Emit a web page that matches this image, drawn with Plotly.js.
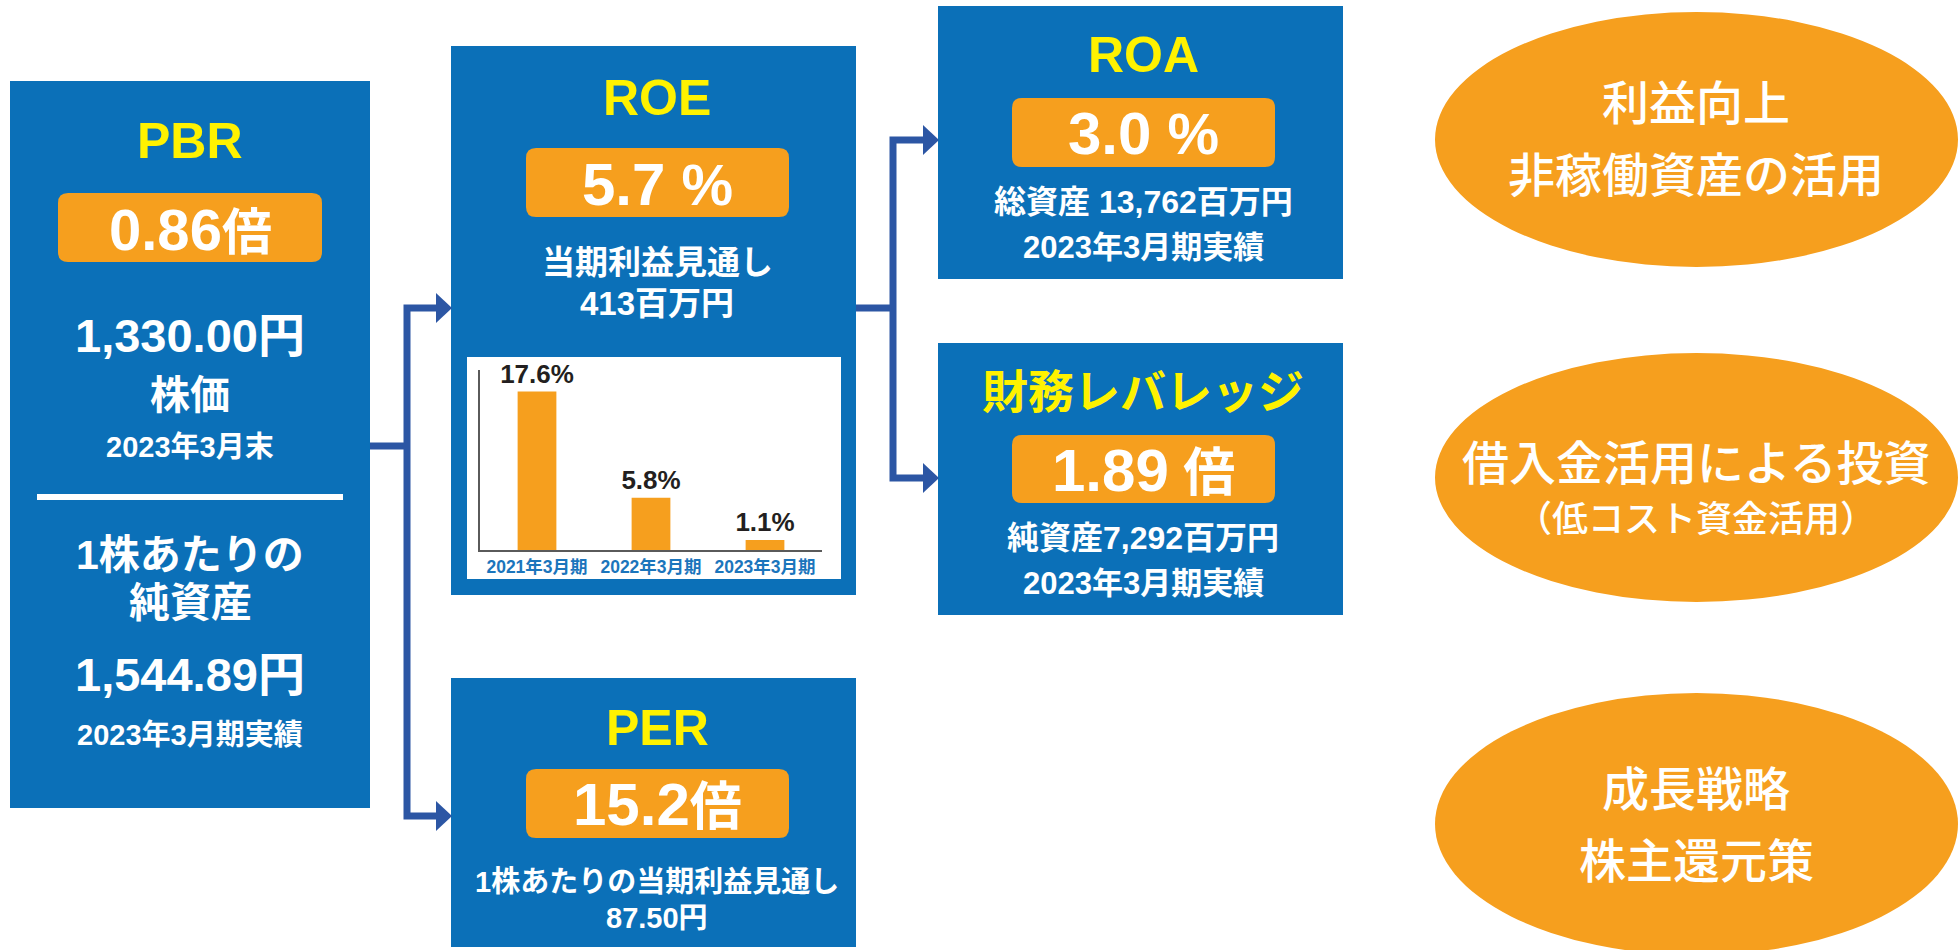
<!DOCTYPE html>
<html>
<head>
<meta charset="utf-8">
<script src="https://cdn.plot.ly/plotly-3.0.1.min.js"></script>
<style>html,body{margin:0;padding:0;background:#fff;}#chart{width:1960px;height:950px;}</style>
</head>
<body>
<div id="chart"></div>
<script>
// ---------------- DATA ----------------
const roeYears = ['2021年3月期', '2022年3月期', '2023年3月期'];
const roeValues = [17.6, 5.8, 1.1];

const kpiNames = ['PBR', 'ROE', 'ROA', '財務レバレッジ', 'PER'];
const kpiValues = ['0.86', '5.7', '3.0', '1.89', '15.2'];
const kpiUnits = ['倍', '%', '%', '倍', '倍'];

const pbrLines = ['1,330.00円', '株価', '2023年3月末', '1株あたりの', '純資産', '1,544.89円', '2023年3月期実績'];
const roeLines = ['当期利益見通し', '413百万円'];
const roaLines = ['総資産 13,762百万円', '2023年3月期実績'];
const levLines = ['純資産7,292百万円', '2023年3月期実績'];
const perLines = ['1株あたりの当期利益見通し', '87.50円'];

const strategies = ['利益向上', '非稼働資産の活用', '借入金活用による投資', '（低コスト資金活用）', '成長戦略', '株主還元策'];

// ---------------- STYLE / LAYOUT HELPERS ----------------
const W = 1960, H = 950;
const FONT = 'Liberation Sans, Noto Sans CJK JP, sans-serif';
const BLUE = '#0B70B8', ORANGE = '#F69F1E', YELLOW = '#FFF200', LINK = '#2C56A4';
const X = p => p / W;
const Y = p => 1 - p / H;

const shapes = [];
const annotations = [];

function rect(x0, y0, x1, y1, color) {
  shapes.push({type: 'rect', xref: 'paper', yref: 'paper', x0: X(x0), x1: X(x1), y0: Y(y1), y1: Y(y0),
    fillcolor: color, line: {width: 0}, layer: 'below'});
}
function pill(x0, y0, x1, y1, r, color) {
  const p = (x, y) => X(x) + ',' + Y(y);
  const d = 'M' + p(x0 + r, y0) + ' L' + p(x1 - r, y0) + ' Q' + p(x1, y0) + ' ' + p(x1, y0 + r) +
    ' L' + p(x1, y1 - r) + ' Q' + p(x1, y1) + ' ' + p(x1 - r, y1) +
    ' L' + p(x0 + r, y1) + ' Q' + p(x0, y1) + ' ' + p(x0, y1 - r) +
    ' L' + p(x0, y0 + r) + ' Q' + p(x0, y0) + ' ' + p(x0 + r, y0) + ' Z';
  shapes.push({type: 'path', xref: 'paper', yref: 'paper', path: d, fillcolor: color, line: {width: 0}, layer: 'below'});
}
function ellipse(x0, y0, x1, y1, color) {
  shapes.push({type: 'circle', xref: 'paper', yref: 'paper', x0: X(x0), x1: X(x1), y0: Y(y1), y1: Y(y0),
    fillcolor: color, line: {width: 0}, layer: 'below'});
}
function poly(pts, color, width) {
  const d = pts.map((q, i) => (i ? 'L' : 'M') + X(q[0]) + ',' + Y(q[1])).join(' ');
  shapes.push({type: 'path', xref: 'paper', yref: 'paper', path: d, line: {color: color, width: width}, layer: 'below'});
}
function arrowHead(tipX, y, color) {
  const d = 'M' + X(tipX - 16) + ',' + Y(y - 15) + ' L' + X(tipX) + ',' + Y(y) + ' L' + X(tipX - 16) + ',' + Y(y + 15) + ' Z';
  shapes.push({type: 'path', xref: 'paper', yref: 'paper', path: d, fillcolor: color, line: {width: 0}, layer: 'below'});
}
function txt(x, y, text, size, color, weight) {
  annotations.push({xref: 'paper', yref: 'paper', x: X(x), y: Y(y), xanchor: 'center', yanchor: 'middle',
    text: text, showarrow: false, font: {family: FONT, size: size, color: color, weight: weight || 700}});
}
function kpiText(i, unitSize, gap) {
  return kpiValues[i] + '<span style="font-size:' + unitSize + 'px">' + (gap ? ' ' : '') + kpiUnits[i] + '</span>';
}

// ---------------- BOXES ----------------
// PBR
rect(10, 81, 370, 808, BLUE);
txt(190, 141, kpiNames[0], 50, YELLOW);
pill(58, 193, 322, 262, 10, ORANGE);
txt(190, 229, kpiText(0, 50, false), 58, '#fff');
txt(190, 335, pbrLines[0], 47, '#fff');
txt(190, 395, pbrLines[1], 40, '#fff');
txt(190, 447, pbrLines[2], 29, '#fff');
rect(37, 494, 343, 500, '#fff');
txt(190, 555, pbrLines[3], 41, '#fff');
txt(190, 603, pbrLines[4], 41, '#fff');
txt(190, 674, pbrLines[5], 47, '#fff');
txt(190, 735, pbrLines[6], 29, '#fff');

// ROE
rect(451, 46, 856, 595, BLUE);
txt(657, 98, kpiNames[1], 50, YELLOW);
pill(526, 148, 789, 217, 10, ORANGE);
txt(657, 184, kpiText(1, 58, true), 60, '#fff');
txt(657, 262, roeLines[0], 33, '#fff');
txt(657, 303, roeLines[1], 33, '#fff');
rect(467, 357, 841, 579, '#fff');

// ROA
rect(938, 6, 1343, 279, BLUE);
txt(1143, 55, kpiNames[2], 50, YELLOW);
pill(1012, 98, 1275, 167, 10, ORANGE);
txt(1143, 134, kpiText(2, 58, true), 60, '#fff');
txt(1143, 202, roaLines[0], 32, '#fff');
txt(1143, 247, roaLines[1], 31, '#fff');

// Leverage
rect(938, 343, 1343, 615, BLUE);
txt(1143, 392, kpiNames[3], 46, YELLOW);
pill(1012, 435, 1275, 503, 10, ORANGE);
txt(1143, 470, kpiText(3, 52, true), 60, '#fff');
txt(1143, 538, levLines[0], 32, '#fff');
txt(1143, 583, levLines[1], 31, '#fff');

// PER
rect(451, 678, 856, 947, BLUE);
txt(657, 728, kpiNames[4], 50, YELLOW);
pill(526, 769, 789, 838, 10, ORANGE);
txt(657, 804, kpiText(4, 52, false), 60, '#fff');
txt(657, 882, perLines[0], 29, '#fff');
txt(657, 918, perLines[1], 29, '#fff');

// Connectors
poly([[370, 446], [407, 446]], LINK, 7);
poly([[440, 308], [407, 308], [407, 816], [440, 816]], LINK, 7);
arrowHead(452, 308, LINK);
arrowHead(452, 816, LINK);
poly([[856, 308], [893, 308]], LINK, 7);
poly([[926, 140], [893, 140], [893, 478], [926, 478]], LINK, 7);
arrowHead(939, 140, LINK);
arrowHead(939, 478, LINK);

// Ellipses
ellipse(1435, 12, 1958, 267, ORANGE);
ellipse(1435, 353, 1958, 602, ORANGE);
ellipse(1435, 693, 1958, 955, ORANGE);
txt(1696, 104, strategies[0], 47, '#fff', 500);
txt(1696, 176, strategies[1], 47, '#fff', 500);
txt(1696, 463, strategies[2], 47, '#fff', 500);
txt(1696, 519, strategies[3], 36, '#fff', 500);
txt(1696, 789, strategies[4], 47, '#fff', 500);
txt(1696, 861, strategies[5], 47, '#fff', 500);

// ---------------- BAR CHART (ROE history) ----------------
const trace = {
  type: 'bar',
  x: roeYears,
  y: roeValues,
  text: roeValues.map(v => v.toFixed(1) + '%'),
  textposition: 'outside',
  constraintext: 'none',
  cliponaxis: false,
  textfont: {family: FONT, size: 26, color: '#231F20', weight: 700},
  marker: {color: ORANGE, line: {width: 0}},
  width: 0.34,
  hoverinfo: 'skip'
};

const layout = {
  width: W, height: H,
  margin: {l: 0, r: 0, t: 0, b: 0},
  paper_bgcolor: '#fff',
  plot_bgcolor: 'rgba(0,0,0,0)',
  showlegend: false,
  xaxis: {
    domain: [X(480), X(822)],
    type: 'category',
    range: [-0.5, 2.5],
    showline: true, linecolor: '#5a5a5a', linewidth: 2,
    ticks: '', showgrid: false, zeroline: false,
    tickfont: {family: FONT, size: 17.5, color: '#1B75BC', weight: 700},
    fixedrange: true
  },
  yaxis: {
    domain: [Y(550), Y(370)],
    range: [0, 20],
    showline: true, linecolor: '#5a5a5a', linewidth: 2,
    showticklabels: false, ticks: '', showgrid: false, zeroline: false,
    fixedrange: true
  },
  shapes: shapes,
  annotations: annotations
};

Plotly.newPlot('chart', [trace], layout, {displayModeBar: false, staticPlot: true});
</script>
</body>
</html>
